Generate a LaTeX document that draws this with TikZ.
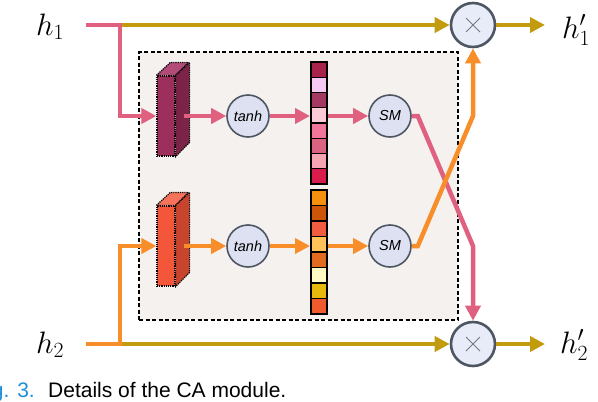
\RequirePackage{fix-cm}
\documentclass[tikz,border=0pt]{standalone}
\usepackage{fontspec}
\newfontfamily\lsans{Liberation Sans}
\usetikzlibrary{arrows.meta}
\definecolor{pinkline}{HTML}{E0607F}
\definecolor{goldline}{HTML}{C29B0E}
\definecolor{orangeline}{HTML}{F88E2A}
\definecolor{boxbg}{HTML}{F4F1EF}
\definecolor{circfill}{HTML}{DDE1F1}
\definecolor{xfill}{HTML}{E8ECF8}
\definecolor{circdraw}{HTML}{4D5662}
\definecolor{bafront}{HTML}{9C2F5C}
\definecolor{batop}{HTML}{B24B78}
\definecolor{baside}{HTML}{7B2447}
\definecolor{bbfront}{HTML}{F4563A}
\definecolor{bbtop}{HTML}{F5735A}
\definecolor{bbside}{HTML}{C9442C}
\definecolor{capblue}{HTML}{1E8FD8}
\definecolor{ca1}{HTML}{A8244C}\definecolor{ca2}{HTML}{F6C8F2}
\definecolor{ca3}{HTML}{A43A64}\definecolor{ca4}{HTML}{FCCBD7}
\definecolor{ca5}{HTML}{F2769B}\definecolor{ca6}{HTML}{DA6382}
\definecolor{ca7}{HTML}{F7A5B2}\definecolor{ca8}{HTML}{D91C4C}
\definecolor{cb1}{HTML}{F8900F}\definecolor{cb2}{HTML}{CD5507}
\definecolor{cb3}{HTML}{F15B3F}\definecolor{cb4}{HTML}{FFC25B}
\definecolor{cb5}{HTML}{E16B1F}\definecolor{cb6}{HTML}{FFFAC4}
\definecolor{cb7}{HTML}{E7B90C}\definecolor{cb8}{HTML}{EF5B2D}
\begin{document}
\begin{tikzpicture}[x=1pt,y=-1pt,
  flow/.style={line width=4.5pt, line join=miter, -{Triangle[length=15pt,width=15pt]}},
  opcirc/.style={circle, draw=circdraw, line width=1.6pt, fill=circfill, minimum size=42pt, inner sep=0pt, font=\lsans\itshape\fontsize{14.5}{16}\selectfont},
  mulcirc/.style={circle, draw=circdraw, line width=2.6pt, fill=xfill, minimum size=44pt, inner sep=0pt},
  blockface/.style={draw=black, densely dotted, line width=1.2pt},
  colbox/.style={draw=black, line width=2pt, minimum width=16pt, inner sep=0pt},
  bigmath/.style={inner sep=0pt, font=\fontsize{31}{34}\selectfont},
  captext/.style={inner sep=0pt, font=\lsans\fontsize{21}{24}\selectfont}]
\useasboundingbox (0,0) rectangle (598,402);

% dashed module box
\node[draw=black, dashed, dash pattern=on 4pt off 2.5pt, line width=1.5pt, fill=boxbg,
      minimum width=319pt, minimum height=268pt, inner sep=0pt] (module) at (298.5,186) {};

% multipliers
\node[mulcirc] (x1) at (473,25) {};
\node[mulcirc] (x2) at (473,344) {};
\foreach \n in {x1,x2}{
  \draw[circdraw!80, line width=0.9pt] ([shift={(-7,-7)}]\n.center) -- ([shift={(7,7)}]\n.center);
  \draw[circdraw!80, line width=0.9pt] ([shift={(-7,7)}]\n.center) -- ([shift={(7,-7)}]\n.center);
}

% texts
\node[bigmath, anchor=base west] (h1) at (36,35) {$h_1$};
\node[bigmath, anchor=base west] (h2) at (36,353) {$h_2$};
\node[bigmath, anchor=base west] (ho1) at (562,38) {$h'_1$};
\node[bigmath, anchor=base west] (ho2) at (560,353) {$h'_2$};

\coordinate (in1) at (86,25);
\coordinate (j1) at (120,25);
\coordinate (in2) at (86,344);
\coordinate (j2) at (120,344);
\coordinate (out1) at (545,25);
\coordinate (out2) at (545,344);

% 3D blocks
\node[blockface, fill=bafront, minimum width=18pt, minimum height=80pt, inner sep=0pt] (blk1) at (166,116) {};
\filldraw[blockface, fill=batop] (blk1.north west) -- ++(14,-13) -- ++(18,0) -- (blk1.north east) -- cycle;
\filldraw[blockface, fill=baside] (blk1.north east) -- ++(14,-13) -- ++(0,80) -- (blk1.south east) -- cycle;
\node[blockface, fill=bbfront, minimum width=18pt, minimum height=80pt, inner sep=0pt] (blk2) at (166,246) {};
\filldraw[blockface, fill=bbtop] (blk2.north west) -- ++(14,-13) -- ++(18,0) -- (blk2.north east) -- cycle;
\filldraw[blockface, fill=bbside] (blk2.north east) -- ++(14,-13) -- ++(0,80) -- (blk2.south east) -- cycle;

% columns
\foreach \c [count=\i from 0] in {ca1,ca2,ca3,ca4,ca5,ca6,ca7,ca8}{
  \fill[\c] (311,62+\i*15.25) rectangle (327,62+\i*15.25+15.25);
  \draw[line width=1.3pt] (311,62+\i*15.25) -- (327,62+\i*15.25);
}
\node[colbox, minimum height=122pt] (col1) at (319,123) {};
\foreach \c [count=\i from 0] in {cb1,cb2,cb3,cb4,cb5,cb6,cb7,cb8}{
  \fill[\c] (311,190+\i*15.5) rectangle (327,190+\i*15.5+15.5);
  \draw[line width=1.3pt] (311,190+\i*15.5) -- (327,190+\i*15.5);
}
\node[colbox, minimum height=124pt] (col2) at (319,252) {};

% operators
\node[opcirc] (t1) at (248,116) {tanh};
\node[opcirc] (s1) at (390,116) {SM};
\node[opcirc] (t2) at (248,246) {tanh};
\node[opcirc] (s2) at (390,246) {SM};

% main gold lines
\draw[flow, goldline] (j1) -- (x1.west);
\draw[flow, goldline] (j2) -- (x2.west);
\draw[flow, goldline] (x1.east) -- (out1);
\draw[flow, goldline] (x2.east) -- (out2);

% top branch (pink)
\draw[flow, pinkline] (in1) -- (j1) -- (j1 |- blk1.west) -- (blk1.west);
\draw[flow, pinkline] ([xshift=8pt]blk1.east) -- (t1.west);
\draw[flow, pinkline] (t1.east) -- (t1.east -| col1.west);
\draw[flow, pinkline] (s1.west -| col1.east) -- (s1.west);
\draw[flow, pinkline] (s1.east) -- ++(6,0) -- (x2.north |- s2) -- (x2.north);

% bottom branch (orange)
\draw[flow, orangeline] (in2) -- (j2) -- (j2 |- blk2.west) -- (blk2.west);
\draw[flow, orangeline] ([xshift=8pt]blk2.east) -- (t2.west);
\draw[flow, orangeline] (t2.east) -- (t2.east -| col2.west);
\draw[flow, orangeline] (s2.west -| col2.east) -- (s2.west);
\draw[flow, orangeline] (s2.east) -- ++(6,0) -- (x1.south |- s1) -- (x1.south);

% caption
\node[captext, anchor=base east, text=capblue] (capnum) at (35,397) {Fig. 3.};
\node[captext, anchor=base west] (cap) at (48,397) {Details of the CA module.};
\end{tikzpicture}
\end{document}
